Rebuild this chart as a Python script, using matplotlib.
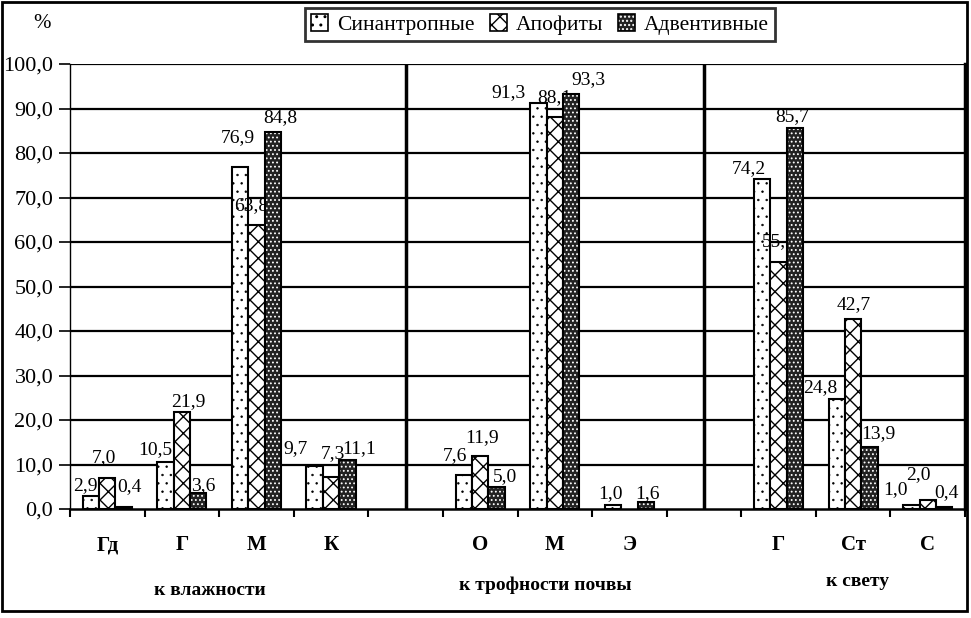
import numpy as np
import matplotlib
matplotlib.use("Agg")
import matplotlib.pyplot as plt
from matplotlib.patches import Patch, Rectangle
from matplotlib.legend_handler import HandlerTuple

plt.rcParams['font.family'] = ['Liberation Serif', 'DejaVu Serif']
plt.rcParams['hatch.linewidth'] = 1.0

# categories (blank slots separate the three groups)
categories = ['Гд', 'Г', 'М', 'К', '', 'О', 'М', 'Э', '', 'Г', 'Ст', 'С']
groups = ['к влажности', 'к трофности почвы', 'к свету']
series_names = ['Синантропные', 'Апофиты', 'Адвентивные']
nan = np.nan
synanthropic = [2.9, 10.5, 76.9, 9.7, nan, 7.6, 91.3, 1.0, nan, 74.2, 24.8, 1.0]
apophytes = [7.0, 21.9, 63.8, 7.3, nan, 11.9, 88.1, nan, nan, 55.5, 42.7, 2.0]
adventive = [0.4, 3.6, 84.8, 11.1, nan, 5.0, 93.3, 1.6, nan, 85.7, 13.9, 0.4]
yticks = [0, 10, 20, 30, 40, 50, 60, 70, 80, 90, 100]

# style
faces = ['white', 'white', '#222222']
hatches = ['..', 'xx', '....']
hatch_cols = ['black', 'black', 'white']
hatch_lw = [0.5, 1.0, 0.8]
# label placement, pixels: shift right (dx) and height of label centre above bar top (dy)
label_dx = [[-6, -10, -2, -19, 0, -9, -30, -2, 0, -13, -16, -16],
            [-3, 6, -5, 2, 0, 2, 0, 0, 0, 0, 1, -9],
            [6, 5, 7, 12, 0, 8, 17, 2, 0, -3, 9, 2]]
label_dy = [[11, 13, 29, 17, 0, 20, 10, 11, 0, 10, 11, 15],
            [20, 10, 19, 23, 0, 18, 19, 0, 0, 20, 14, 26],
            [21, 7, 14, 11, 0, 10, 14, 8, 0, 11, 14, 15]]

fig = plt.figure(figsize=(9.71, 6.18), dpi=100)
ax = fig.add_axes([70 / 971, 1 - 509 / 618, 895 / 971, 445 / 618])

x = np.arange(len(categories))
w = 0.22
data = [synanthropic, apophytes, adventive]
for i, vals in enumerate(data):
    vals = np.array(vals, dtype=float)
    pos = x + (i - 1) * w
    bars = ax.bar(pos, vals, w, color=faces[i], edgecolor=hatch_cols[i], hatch=hatches[i],
                  linewidth=0, zorder=3 + i)
    for b in bars:
        if hasattr(b, 'set_hatch_linewidth'):
            b.set_hatch_linewidth(hatch_lw[i])
    ax.bar(pos, vals, w, facecolor='none', edgecolor='black', linewidth=1.5, zorder=3 + i)
    for j, v in enumerate(vals):
        if np.isnan(v):
            continue
        ax.annotate(f"{v:.1f}".replace('.', ','), (pos[j], v),
                    xytext=(label_dx[i][j] * 0.72, label_dy[i][j] * 0.72),
                    textcoords='offset points', ha='center', va='center',
                    fontsize=14, zorder=3.5 + i)

ax.set_xlim(-0.5, len(categories) - 0.5)
ax.set_ylim(0, 100)
ax.set_yticks(yticks)
ax.set_yticklabels([f"{t:.1f}".replace('.', ',') for t in yticks], fontsize=16)
for t in yticks[1:]:
    ax.axhline(t, color='black', lw=1.6, zorder=1)
for sep in [4, 8]:
    ax.axvline(sep, color='black', lw=2.5, zorder=2)

ax.set_xticks(np.arange(len(categories) + 1) - 0.5)
ax.set_xticklabels([])
ax.tick_params(axis='x', direction='out', length=6, width=1.5)
ax.tick_params(axis='y', direction='out', length=8, width=1.2, pad=4)
ax.spines['top'].set_visible(False)
ax.spines['left'].set_linewidth(1.0)
ax.spines['right'].set_linewidth(2.5)
ax.spines['bottom'].set_linewidth(1.8)

for j, c in enumerate(categories):
    if c:
        ax.text(j, -0.081, c, transform=ax.get_xaxis_transform(), ha='center', va='center',
                fontsize=15, fontweight='bold')
group_x = [1.38, 5.87, 10.06]
group_y = [-0.184, -0.171, -0.162]
for g, gx, gy in zip(groups, group_x, group_y):
    ax.text(gx, gy, g, transform=ax.get_xaxis_transform(), ha='center', va='center',
            fontsize=14, fontweight='bold')

fig.text(42 / 971, 1 - 24 / 618, '%', ha='center', va='center', fontsize=15)

handles = []
for i in range(3):
    p1 = Patch(facecolor=faces[i], edgecolor=hatch_cols[i], hatch=hatches[i], linewidth=0)
    p2 = Patch(facecolor='none', edgecolor='black', linewidth=1.2)
    handles.append((p1, p2))
leg = fig.legend(handles, series_names, loc='center', bbox_to_anchor=(540 / 971, 1 - 24.5 / 618),
                 ncol=3, fontsize=15.5, frameon=True, fancybox=False, handlelength=0.8,
                 handleheight=0.8, handletextpad=0.4, columnspacing=0.7, borderpad=0.3,
                 handler_map={tuple: HandlerTuple(ndivide=1, pad=0)})
leg.get_frame().set_edgecolor('black')
leg.get_frame().set_linewidth(2)

fig.patches.append(Rectangle((1.5 / 971, 1 - 611 / 618), 965.5 / 971, 609.5 / 618,
                             transform=fig.transFigure, fill=False, edgecolor='black', lw=2))

fig.savefig('out.png', dpi=100)
